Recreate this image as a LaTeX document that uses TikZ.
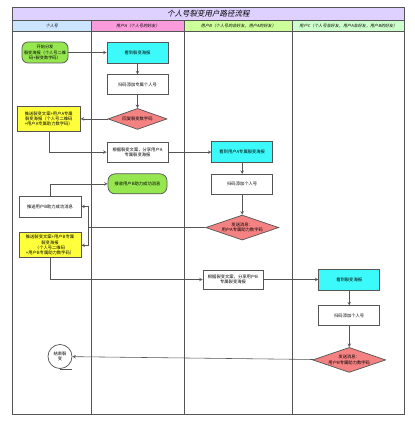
\documentclass[tikz,border=0pt]{standalone}
\usepackage{fontspec}
\setmainfont{Noto Sans CJK SC}
\newfontfamily\slantcjk[FakeSlant=0.2]{Noto Sans CJK SC}
\usetikzlibrary{positioning,shapes.geometric,calc}
\definecolor{titlepurple}{RGB}{222, 208, 255}
\definecolor{laneblue}{RGB}{204, 229, 255}
\definecolor{lanepink}{RGB}{250, 155, 220}
\definecolor{lanelime}{RGB}{204, 255, 153}
\definecolor{lanegreen}{RGB}{204, 255, 204}
\definecolor{startgreen}{RGB}{150, 230, 80}
\definecolor{seecyan}{RGB}{60, 250, 250}
\definecolor{pushyellow}{RGB}{255, 255, 60}
\definecolor{decisionred}{RGB}{245, 130, 130}
\definecolor{linegray}{RGB}{85, 85, 85}

\begin{document}
\begin{tikzpicture}[x=1pt, y=-1pt,
titlebar/.style={rectangle, draw=linegray, fill=titlepurple, line width=0.3mm, minimum height=13pt, anchor=north west, inner sep=0pt, font=\slantcjk\fontsize{7.5}{9}\selectfont},
lanehead/.style={rectangle, draw=linegray, line width=0.3mm, minimum height=11pt, anchor=north west, inner sep=0pt, font=\slantcjk\fontsize{4.1}{5}\selectfont},
lanebody/.style={rectangle, draw=linegray, fill=white, line width=0.3mm, minimum height=383pt, anchor=north west},
startnode/.style={rounded corners=6pt, draw=linegray, fill=startgreen, line width=0.25mm, minimum width=46pt, minimum height=21pt, align=center, inner sep=0.5pt, font=\fontsize{4.2}{5.2}\selectfont},
seenode/.style={rectangle, draw=linegray, fill=seecyan, line width=0.25mm, minimum width=61pt, minimum height=21pt, align=center, inner sep=0.5pt, font=\fontsize{4.3}{5.3}\selectfont},
processnode/.style={rectangle, draw=linegray, fill=white, line width=0.25mm, minimum width=61pt, minimum height=20pt, align=center, inner sep=0.5pt, font=\fontsize{4.3}{5.3}\selectfont},
pushnode/.style={rectangle, draw=linegray, fill=pushyellow, line width=0.25mm, minimum width=63pt, minimum height=25pt, align=center, inner sep=0.5pt, font=\fontsize{4.3}{5.3}\selectfont},
decisionnode/.style={diamond, aspect=3, draw=linegray, fill=decisionred, line width=0.25mm, minimum width=59pt, minimum height=21pt, align=center, inner sep=0pt, font=\fontsize{4.3}{5.3}\selectfont},
endnode/.style={circle, draw=linegray, fill=white, line width=0.25mm, minimum size=24pt, align=center, inner sep=0pt, font=\fontsize{4.3}{5.3}\selectfont},
arrow/.style={->, draw=linegray, line width=0.2mm, >=stealth}
]
\useasboundingbox (0,0) rectangle (414,430);

%Lanes
\node[titlebar, minimum width=392pt] (title_bar) at (12,7) {个人号裂变用户路径流程};

\node[lanehead, fill=laneblue, minimum width=79pt] 	(lane_1_head) at (12,20) {个人号};
\node[lanehead, fill=lanepink, minimum width=93pt] 	(lane_2_head) at (91,20) {用户A（个人号的好友）};
\node[lanehead, fill=lanelime, minimum width=108pt] 	(lane_3_head) at (184,20) {用户B（个人号的非好友，用户A的好友）};
\node[lanehead, fill=lanegreen, minimum width=112pt] 	(lane_4_head) at (292,20) {用户C（个人号非好友，用户A非好友，用户B的好友）};

\node[lanebody, minimum width=79pt] 	(lane_1_body) at (12,31) {};
\node[lanebody, minimum width=93pt] 	(lane_2_body) at (91,31) {};
\node[lanebody, minimum width=108pt] 	(lane_3_body) at (184,31) {};
\node[lanebody, minimum width=112pt] 	(lane_4_body) at (292,31) {};

%Nodes
%Nodes user A
\node[startnode] 									(start_node) at (45,52.5) {开始分发\\裂变海报（个人号二维\\码+裂变数字码）};
\node[seenode] 										(poster_node_a) at (137.5,52.5) {看到裂变海报};
\node[processnode] 									(scan_node_a) [below=11pt of poster_node_a] {扫码添加专属个人号};
\node[decisionnode] 								(reply_node_a) [below=13pt of scan_node_a] {回复裂变数字码};
\node[pushnode] 									(push_node_1) [left=27pt of reply_node_a] {推送裂变文案+用户A专属\\裂变海报（个人号二维码\\+用户A专属助力数字码）};
\node[processnode] 									(share_node_a) [below=12pt of reply_node_a] {根据裂变文案，分享用户A\\专属裂变海报};
\node[startnode, minimum width=59pt, minimum height=20pt, rounded corners=7pt, font=\fontsize{4.3}{5.3}\selectfont] (success_node_a) [below=11pt of share_node_a] {接收用户B助力成功消息};

%Nodes user B
\node[seenode] 										(poster_node_b) [right=43pt of share_node_a] {看到用户A专属裂变海报};
\node[processnode] 									(scan_node_b) [below=11pt of poster_node_b] {扫码添加个人号};
\node[decisionnode, minimum width=73pt, minimum height=25pt] (msg_node_b) [below=20pt of scan_node_b] {发送消息：\\用户A专属助力数字码};
\node[processnode, minimum width=62pt, minimum height=21pt] (notify_node_1) at (50,206.5) {推送用户B助力成功消息};
\node[pushnode, minimum width=62pt] 				(push_node_2) [below=15pt of notify_node_1] {推送裂变文案+用户B专属\\裂变海报\\（个人号二维码\\+用户B专属助力数字码）};
\node[processnode, minimum width=60pt, minimum height=19pt] (share_node_b) at (233,279.5) {根据裂变文案，分享用户B\\专属裂变海报};

%Nodes user C
\node[seenode] 										(poster_node_c) [right=55pt of share_node_b] {看到裂变海报};
\node[processnode] 									(scan_node_c) [below=15pt of poster_node_c] {扫码添加个人号};
\node[decisionnode, minimum width=73pt, minimum height=25pt] (msg_node_c) [below=21pt of scan_node_c] {发送消息：\\用户B专属助力数字码};
\node[endnode] 										(end_node) at (60,356.5) {结束裂\\变};

%Arrow
%Arrow user A
\draw [arrow] (start_node) -- (poster_node_a);
\draw [arrow] (poster_node_a) -- (scan_node_a);
\draw [arrow] (scan_node_a) -- (reply_node_a);
\draw [arrow] (reply_node_a) -- (push_node_1);
\draw [arrow] (push_node_1) |- (share_node_a);

%Arrow user B
\draw [arrow] (share_node_a) -- (poster_node_b);
\draw [arrow] (poster_node_b) -- (scan_node_b);
\draw [arrow] (scan_node_b) -- (msg_node_b);
\coordinate (split_b) at ([xshift=7pt]notify_node_1.east |- msg_node_b.west);
\draw [draw=linegray, line width=0.2mm] (msg_node_b.west) -- (split_b);
\draw [arrow] (split_b) |- (notify_node_1.east);
\draw [arrow] (split_b) |- (push_node_2.east);
\draw [arrow] (notify_node_1.north) |- (success_node_a.west);

%Arrow user C
\draw [arrow] (push_node_2) |- (share_node_b);
\draw [arrow] (share_node_b) -- (poster_node_c);
\draw [arrow] (poster_node_c) -- (scan_node_c);
\draw [arrow] (scan_node_c) -- (msg_node_c);
\draw [arrow] (msg_node_c) -- (end_node);
\draw [draw=linegray, line width=0.25mm] (end_node.south) -- ++(12,0);

\end{tikzpicture}
\end{document}
